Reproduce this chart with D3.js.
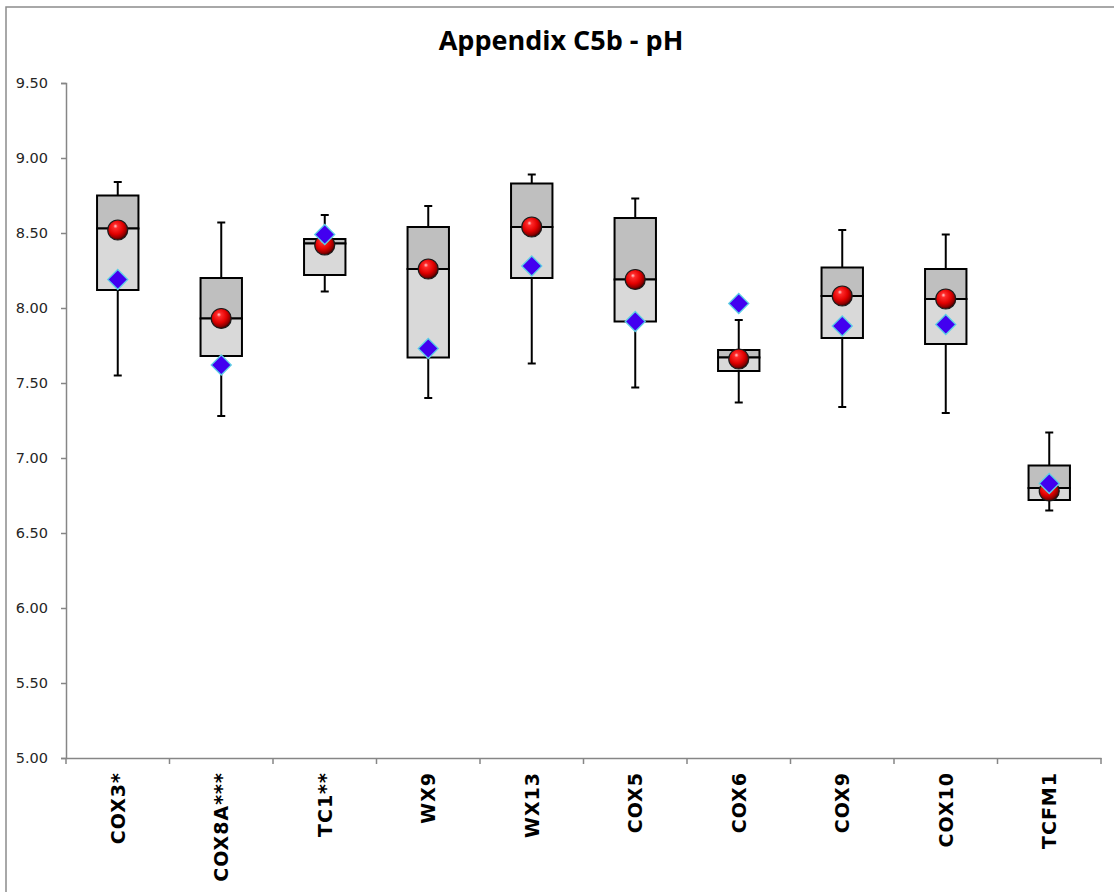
<!DOCTYPE html>
<html>
<head>
<meta charset="utf-8">
<script src="https://cdn.jsdelivr.net/npm/d3@7"></script>
<style>
  html, body { margin: 0; padding: 0; background: #fff; }
  svg { display: block; }
</style>
</head>
<body>
<svg id="chart" width="1114" height="892"></svg>
<script>
const categories = ["COX3*", "COX8A***", "TC1**", "WX9", "WX13", "COX5", "COX6", "COX9", "COX10", "TCFM1"];
const whiskerMax = [8.84, 8.57, 8.62, 8.68, 8.89, 8.73, 7.92, 8.52, 8.49, 7.17];
const q3Vals     = [8.75, 8.20, 8.46, 8.54, 8.83, 8.60, 7.72, 8.27, 8.26, 6.95];
const medianVals = [8.53, 7.93, 8.43, 8.26, 8.54, 8.19, 7.67, 8.08, 8.06, 6.80];
const q1Vals     = [8.12, 7.68, 8.22, 7.67, 8.20, 7.91, 7.58, 7.80, 7.76, 6.72];
const whiskerMin = [7.55, 7.28, 8.11, 7.40, 7.63, 7.47, 7.37, 7.34, 7.30, 6.65];
const sphereVals = [8.52, 7.93, 8.42, 8.26, 8.54, 8.19, 7.66, 8.08, 8.06, 6.78];
const diamondVals= [8.19, 7.62, 8.49, 7.73, 8.28, 7.91, 8.03, 7.88, 7.89, 6.83];
const yTicks = [5.0, 5.5, 6.0, 6.5, 7.0, 7.5, 8.0, 8.5, 9.0, 9.5];
const title = "Appendix C5b - pH";

const data = categories.map((c, i) => ({
  cat: c, max: whiskerMax[i], q3: q3Vals[i], med: medianVals[i], q1: q1Vals[i],
  min: whiskerMin[i], sphere: sphereVals[i], diamond: diamondVals[i]
}));

const svg = d3.select("#chart");

// outer chart border
svg.append("rect")
  .attr("x", 6).attr("y", 7).attr("width", 1130).attr("height", 900)
  .attr("fill", "#fff").attr("stroke", "#8c8c8c").attr("stroke-width", 1.5);

const defs = svg.append("defs");
const grad = defs.append("radialGradient").attr("id", "sphere")
  .attr("cx", "42%").attr("cy", "38%").attr("r", "62%")
  .attr("fx", "38%").attr("fy", "30%");
grad.append("stop").attr("offset", "0%").attr("stop-color", "#ffd0d0");
grad.append("stop").attr("offset", "18%").attr("stop-color", "#ff2a2a");
grad.append("stop").attr("offset", "60%").attr("stop-color", "#e00000");
grad.append("stop").attr("offset", "85%").attr("stop-color", "#900000");
grad.append("stop").attr("offset", "100%").attr("stop-color", "#3a0000");

const plotLeft = 66, plotRight = 1101, plotTop = 83, plotBottom = 758;

const x = d3.scaleBand().domain(categories).range([plotLeft, plotRight]).padding(0);
const y = d3.scaleLinear().domain([5, 9.5]).range([plotBottom, plotTop]);

// title
svg.append("text")
  .attr("x", 561).attr("y", 50)
  .attr("text-anchor", "middle")
  .attr("font-family", "'Open Sans', 'Noto Sans', sans-serif")
  .attr("font-weight", "bold").attr("font-size", 27)
  .attr("fill", "#000")
  .text(title);

// y axis
const yAxis = svg.append("g")
  .attr("transform", `translate(${plotLeft},0)`)
  .call(d3.axisLeft(y).tickValues(yTicks).tickFormat(d3.format(".2f")).tickSize(5).tickPadding(13));
yAxis.select(".domain").attr("stroke", "#868686").attr("stroke-width", 1.5);
yAxis.selectAll(".tick line").attr("stroke", "#868686").attr("stroke-width", 1.5);
yAxis.selectAll(".tick text")
  .attr("font-family", "'DejaVu Sans', Verdana, sans-serif")
  .attr("font-size", 14.5).attr("fill", "#262626");

// x axis
const xAxis = svg.append("g")
  .attr("transform", `translate(0,${plotBottom})`)
  .call(d3.axisBottom(x).tickSize(0).tickSizeOuter(0));
xAxis.select(".domain").attr("stroke", "#868686").attr("stroke-width", 1.5);
xAxis.selectAll(".tick text")
  .attr("transform", "rotate(-90)")
  .attr("text-anchor", "end")
  .attr("x", -14).attr("y", 0).attr("dy", "0.36em")
  .attr("font-family", "'DejaVu Sans', Verdana, sans-serif")
  .attr("font-weight", "bold").attr("font-size", 19)
  .attr("letter-spacing", 1)
  .attr("fill", "#000");
// boundary ticks
const bounds = categories.map(c => x(c)).concat([x.range()[1]]);
xAxis.selectAll(".btick").data(bounds).enter().append("line")
  .attr("class", "btick")
  .attr("x1", d => d).attr("x2", d => d)
  .attr("y1", 0).attr("y2", 6)
  .attr("stroke", "#868686").attr("stroke-width", 1.5);

const bw = x.bandwidth() * 0.4;
const capW = 8;
const cx = d => x(d.cat) + x.bandwidth() / 2;

const g = svg.append("g");

// whiskers
g.selectAll(".wlow").data(data).enter().append("line")
  .attr("x1", cx).attr("x2", cx)
  .attr("y1", d => y(d.q1)).attr("y2", d => y(d.min))
  .attr("stroke", "#000").attr("stroke-width", 2);
g.selectAll(".whigh").data(data).enter().append("line")
  .attr("x1", cx).attr("x2", cx)
  .attr("y1", d => y(d.q3)).attr("y2", d => y(d.max))
  .attr("stroke", "#000").attr("stroke-width", 2);
g.selectAll(".capmin").data(data).enter().append("line")
  .attr("x1", d => cx(d) - capW / 2).attr("x2", d => cx(d) + capW / 2)
  .attr("y1", d => y(d.min)).attr("y2", d => y(d.min))
  .attr("stroke", "#000").attr("stroke-width", 2);
g.selectAll(".capmax").data(data).enter().append("line")
  .attr("x1", d => cx(d) - capW / 2).attr("x2", d => cx(d) + capW / 2)
  .attr("y1", d => y(d.max)).attr("y2", d => y(d.max))
  .attr("stroke", "#000").attr("stroke-width", 2);

// boxes
g.selectAll(".boxup").data(data).enter().append("rect")
  .attr("x", d => cx(d) - bw / 2).attr("width", bw)
  .attr("y", d => y(d.q3)).attr("height", d => y(d.med) - y(d.q3))
  .attr("fill", "#bfbfbf").attr("stroke", "#000").attr("stroke-width", 2);
g.selectAll(".boxlow").data(data).enter().append("rect")
  .attr("x", d => cx(d) - bw / 2).attr("width", bw)
  .attr("y", d => y(d.med)).attr("height", d => y(d.q1) - y(d.med))
  .attr("fill", "#d9d9d9").attr("stroke", "#000").attr("stroke-width", 2);

// spheres
g.selectAll(".sphere").data(data).enter().append("circle")
  .attr("cx", cx).attr("cy", d => y(d.sphere)).attr("r", 10)
  .attr("fill", "url(#sphere)").attr("stroke", "#1a1a1a").attr("stroke-width", 1.2);

// diamonds
g.selectAll(".diamond").data(data).enter().append("path")
  .attr("d", d => {
    const px = cx(d), py = y(d.diamond), r = 10;
    return `M${px},${py - r}L${px + r},${py}L${px},${py + r}L${px - r},${py}Z`;
  })
  .attr("fill", "#4200f0").attr("stroke", "#5ccfe6").attr("stroke-width", 1.3);
</script>
</body>
</html>
